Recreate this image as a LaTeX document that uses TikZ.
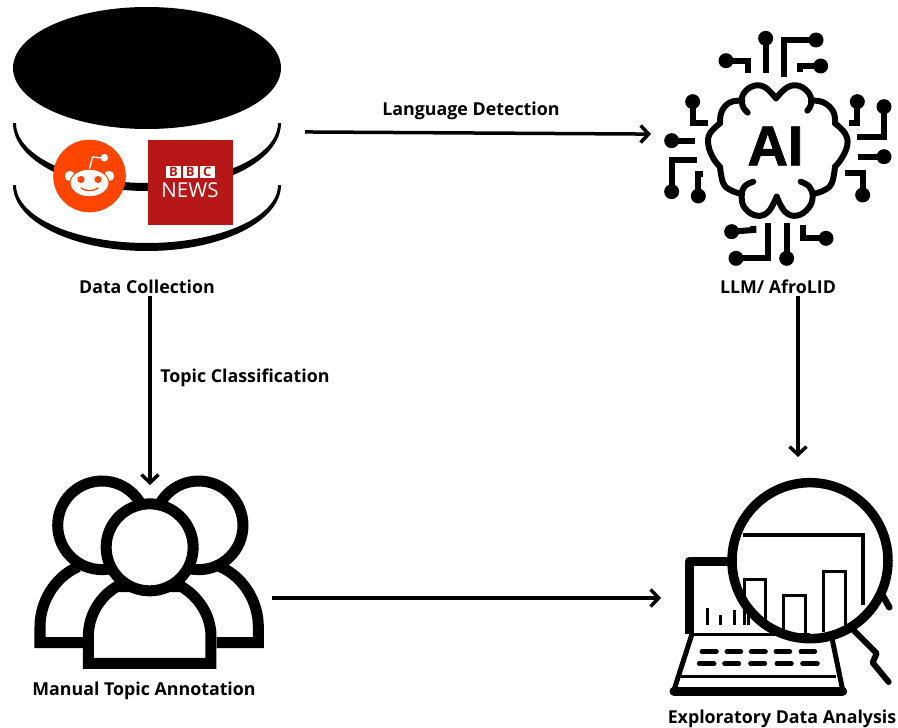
\documentclass[tikz,border=0pt]{standalone}
\usepackage{fontspec}
\setmainfont{Open Sans}
\newfontfamily\aifont[BoldFont={* Bold},BoldFeatures={FakeBold=1.6}]{Liberation Sans}
\usetikzlibrary{arrows.meta}
\definecolor{redditorange}{HTML}{FF4500}
\definecolor{bbcred}{HTML}{B81717}
\tikzset{
  anchorbox/.style={inner sep=0pt,outer sep=0pt,draw=none},
  flowarrow/.style={line width=3.5pt,-{Straight Barb[length=8pt,width=17pt,line width=3.5pt]}},
  lbl/.style={font=\fontsize{17.8}{20}\selectfont\bfseries,inner sep=0pt,text=black},
  wire/.style={line width=6pt},
  brainline/.style={line width=6pt,line cap=round,line join=round},
  bbckey/.style={fill=white,minimum width=15.4pt,minimum height=12.6pt,inner sep=0pt,text=bbcred,font=\fontsize{13}{13}\selectfont\bfseries},
  keycap/.style={line width=5pt,line cap=round},
  barthin/.style={line width=2.6pt},
  personline/.style={line width=11pt,line join=miter}
}
\begin{document}
\begin{tikzpicture}[x=1pt,y=-1pt]
\useasboundingbox (0,0) rectangle (898,728);
\fill[white] (0,0) rectangle (898,728);
% layout nodes
\node[anchorbox,minimum width=310pt,minimum height=330pt] (db) at (150,131) {};
\node[anchorbox,minimum width=294pt,minimum height=322pt] (ai) at (798,135) {};
\node[anchorbox,minimum width=244pt,minimum height=226pt] (people) at (150,598) {};
\node[anchorbox,minimum width=274pt,minimum height=282pt] (eda) at (798,598) {};
% database
\fill (13,123) arc[start angle=180,end angle=360,x radius=134pt,y radius=68pt]
      -- (278,123) arc[start angle=360,end angle=180,x radius=131pt,y radius=60pt] -- cycle;
\fill (13,185) arc[start angle=180,end angle=360,x radius=134pt,y radius=66pt]
      -- (278,185) arc[start angle=360,end angle=180,x radius=131pt,y radius=58pt] -- cycle;
\fill (147,68) ellipse[x radius=134pt,y radius=61pt];
% reddit
\fill[redditorange] (89.5,176) circle[radius=36.3pt];
\fill[white] (70,176) circle[radius=5.2pt];
\fill[white] (109,176) circle[radius=5.2pt];
\draw[redditorange,line width=1pt,fill=white] (89.5,183) ellipse[x radius=19.5pt,y radius=13.8pt];
\fill[redditorange] (81,179.5) circle[radius=3.6pt];
\fill[redditorange] (98,179.5) circle[radius=3.6pt];
\draw[redditorange,line width=1.3pt,line cap=round] (81,188) .. controls (85,191.5) and (94,191.5) .. (98,188);
\draw[white,line width=1.4pt] (89.5,169) -- (92.5,157) -- (103,158);
\fill[white] (104.3,157.7) circle[radius=3.8pt];
% bbc
\fill[bbcred] (147.5,140) rectangle (232.5,225);
\node[bbckey] (bb1) at (173.4,172) {B};
\node[bbckey] (bb2) at (190.3,172) {B};
\node[bbckey] (bb3) at (207.2,172) {C};
\node[inner sep=0pt,text=white,font=\fontsize{20.5}{21}\selectfont] (news) at (190,190.5) {NEWS};
% AI brain
\begin{scope}[shift={(700,70)},x=.33333pt,y=-.33333pt]
\draw[brainline] plot[smooth,tension=.7] coordinates {(143,128) (127,105) (130,72) (160,48) (195,52) (228,85)};
\draw[brainline] plot[smooth,tension=.7] coordinates {(228,85) (262,52) (298,48) (328,72) (333,102) (322,122)};
\draw[brainline] plot[smooth,tension=.7] coordinates {(127,92) (90,97) (65,125) (60,160)};
\draw[brainline] plot[smooth,tension=.7] coordinates {(60,160) (30,190) (25,225) (40,265) (60,290)};
\draw[brainline] plot[smooth,tension=.7] coordinates {(60,290) (70,340) (95,362) (127,372)};
\draw[brainline] plot[smooth,tension=.7] coordinates {(160,335) (133,350) (125,380) (135,415) (170,437) (205,425) (230,380)};
\draw[brainline] plot[smooth,tension=.7] coordinates {(230,380) (255,425) (290,437) (325,415) (338,380) (328,350) (302,335)};
\draw[brainline] plot[smooth,tension=.7] coordinates {(333,92) (370,97) (400,125) (405,160)};
\draw[brainline] plot[smooth,tension=.7] coordinates {(405,160) (435,190) (442,225) (425,265) (405,290)};
\draw[brainline] plot[smooth,tension=.7] coordinates {(405,290) (395,340) (370,362) (338,372)};
\end{scope}
\node[inner sep=0pt,font=\fontsize{56}{56}\aifont\bfseries] (ailogo) at (775.5,146) {AI};
% circuit traces
\begin{scope}[shift={(650,20)},x=.33333pt,y=-.33333pt]
\foreach \dotx/\doty in {347/55,498/60,228/122,512/138,128/245,65/362,65/515,145/528,622/245,702/260,702/410,638/525,245/635,258/715,410/715,528/655}
  \fill (\dotx,\doty) circle[radius=7.5pt];
\draw[wire] (347,55) -- (347,160);
\draw[wire] (498,60) -- (402,60) -- (402,170);
\draw[wire] (228,122) -- (295,122) -- (295,160);
\draw[wire] (512,138) -- (450,138) -- (450,155);
\draw[wire] (128,245) -- (128,310) -- (175,310);
\draw[wire] (65,362) -- (135,362);
\draw[wire] (65,515) -- (65,420) -- (140,420);
\draw[wire] (145,528) -- (145,462) -- (160,462);
\draw[wire] (622,245) -- (622,310) -- (598,310);
\draw[wire] (702,260) -- (702,352) -- (620,352);
\draw[wire] (702,410) -- (625,410);
\draw[wire] (638,525) -- (638,460) -- (586,460);
\draw[wire] (245,635) -- (310,630) -- (310,618);
\draw[wire] (258,715) -- (355,715) -- (355,610);
\draw[wire] (410,715) -- (410,610);
\draw[wire] (528,655) -- (460,655) -- (460,615);
\end{scope}
% people
\begin{scope}[shift={(20,460)},x=.33333pt,y=-.33333pt]
\draw[personline] (246,196) circle[radius=44.3pt];
\draw[personline] (536,196) circle[radius=44.3pt];
\draw[personline] (190,548) -- (60,548) -- (60,500) .. controls (60,425) and (105,350) .. (175,320);
\draw[personline] (590,548) -- (715,548) -- (715,500) .. controls (715,425) and (670,350) .. (600,320);
\draw[personline,fill=white] (205,610) -- (205,530) .. controls (205,465) and (240,410) .. (290,380)
   -- (485,380) .. controls (535,410) and (573,465) .. (573,530) -- (573,610) -- cycle;
\draw[personline,fill=white] (389,262) circle[radius=43.5pt];
\end{scope}
% laptop and magnifier
\begin{scope}[shift={(650,480)},x=.33333pt,y=-.33333pt]
\draw[line width=9pt,line join=round] (118,462) -- (118,243) -- (250,243);
\draw[line width=3pt] (118,462) -- (480,462);
\draw[line width=5pt,line join=round] (125,465) -- (72,630) -- (578,630) -- (545,470);
\draw[line width=9pt,line cap=round] (72,633) -- (578,633);
\draw[line width=2.4pt] (92,590) -- (558,590);
\foreach \xa/\xb in {150/205,225/278,298/352,372/425,447/500}
  \draw[keycap] (\xa+6,515) -- (\xb-6,515);
\foreach \xa/\xb in {142/198,218/272,296/350,375/430,452/508}
  \draw[keycap] (\xa+6,551) -- (\xb-6,551);
\draw[barthin] (172,383) -- (172,435);
\draw[barthin] (212,405) -- (212,435);
\draw[barthin] (254,390) -- (254,435);
\draw[barthin] (295,405) -- (295,435);
\draw[line width=4pt] (280,165) -- (640,165) -- (640,375);
\draw[line width=3pt] (282,435) -- (282,298) -- (347,298) -- (347,420);
\draw[line width=3pt] (400,455) -- (400,345) -- (467,345) -- (467,462);
\draw[line width=3pt] (520,455) -- (520,275) -- (587,275) -- (587,435);
\draw[line width=9.5pt] (480,242) circle[radius=78pt];
\draw[line width=6.5pt,line cap=round] (700,350) -- (718,382);
\draw[line width=6pt,line cap=round,line join=round] (610,450) -- (680,520) -- (668,548) -- (716,606);
\end{scope}
% labels
\node[lbl] (tdata) at (147,287) {Data Collection};
\node[lbl] (tllm) at (778,287) {LLM/ AfroLID};
\node[lbl] (tlang) at (471,111) {Language Detection};
\node[lbl] (ttopic) at (245,378) {Topic Classification};
\node[lbl] (tman) at (144,691) {Manual Topic Annotation};
\node[lbl] (texp) at (782,719) {Exploratory Data Analysis};
% connectors
\draw[flowarrow] (db) -- (ai);
\draw[flowarrow] (db) -- (people);
\draw[flowarrow] (ai) -- (eda);
\draw[flowarrow] (people) -- (eda);
\end{tikzpicture}
\end{document}
